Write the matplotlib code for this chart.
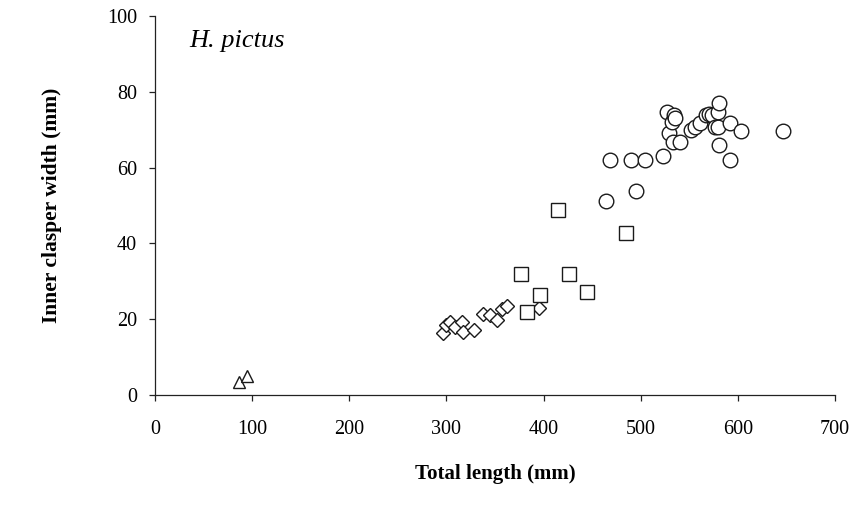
import matplotlib
matplotlib.use("Agg")
import matplotlib.pyplot as plt

# Data
tri_x = [86, 95]
tri_y = [3.5, 5.0]

dia_x = [296, 300, 304, 309, 316, 317.5, 328, 338, 345, 352, 357, 362, 395]
dia_y = [16.3, 18.5, 19.3, 18.0, 19.3, 16.7, 17.1, 21.3, 21.1, 19.8, 22.7, 23.5, 23.0]

sq_x = [376.6, 383, 396.5, 414.7, 426, 445, 484.7]
sq_y = [31.9, 22.0, 26.4, 48.8, 31.9, 27.2, 42.8]

circ_x = [463.8, 468.6, 490.2, 495.4, 504.6, 522.5, 527, 528.6, 532, 533.2, 533.8, 534.8,
          540, 552, 556, 560.6, 567.5, 570, 573, 576, 579.5, 580, 581, 581, 592, 592, 603, 646]
circ_y = [51.2, 62.0, 62.0, 53.8, 62.0, 63.1, 74.8, 69.2, 72.0, 66.8, 73.9, 73.0,
          66.8, 69.9, 70.8, 71.8, 73.9, 74.3, 73.9, 70.8, 70.8, 74.8, 77.0, 66.0, 71.8, 62.0, 69.7, 69.7]

x_ticks = [0, 100, 200, 300, 400, 500, 600, 700]
y_ticks = [0, 20, 40, 60, 80, 100]

plt.rcParams['font.family'] = ['Liberation Serif', 'DejaVu Serif']

fig = plt.figure(figsize=(8.68, 5.05), dpi=100)
ax = fig.add_axes([0.1786, 0.2178, 0.962 - 0.1786, 0.968 - 0.2178])

common = dict(linestyle='none', markerfacecolor='white', markeredgecolor='#1a1a1a', markeredgewidth=1.0)
ax.plot(tri_x, tri_y, marker='^', markersize=8.5, **common)
ax.plot(dia_x, dia_y, marker='D', markersize=7.5, **common)
ax.plot(sq_x, sq_y, marker='s', markersize=10, **common)
ax.plot(circ_x, circ_y, marker='o', markersize=10.5, **common)

ax.set_xlim(0, 700)
ax.set_ylim(0, 100)
ax.set_xticks(x_ticks)
ax.set_yticks(y_ticks)
ax.set_xticklabels([str(v) for v in x_ticks])
ax.set_yticklabels([str(v) for v in y_ticks])

for s in ['top', 'right']:
    ax.spines[s].set_visible(False)
for s in ['left', 'bottom']:
    ax.spines[s].set_color('#222222')
    ax.spines[s].set_linewidth(0.9)

ax.tick_params(axis='both', direction='out', length=4, width=0.9, colors='#222222',
               labelsize=14.5, labelcolor='black')
ax.tick_params(axis='x', pad=14)
ax.tick_params(axis='y', pad=9)

ax.set_xlabel('Total length (mm)', fontsize=15, fontweight='bold', labelpad=18)
ax.set_ylabel('Inner clasper width (mm)', fontsize=15.5, fontweight='bold', labelpad=32)

ax.text(0.05, 0.935, 'H. pictus', transform=ax.transAxes, fontsize=19, fontstyle='italic',
        ha='left', va='center')

fig.savefig('out.png', dpi=100)
